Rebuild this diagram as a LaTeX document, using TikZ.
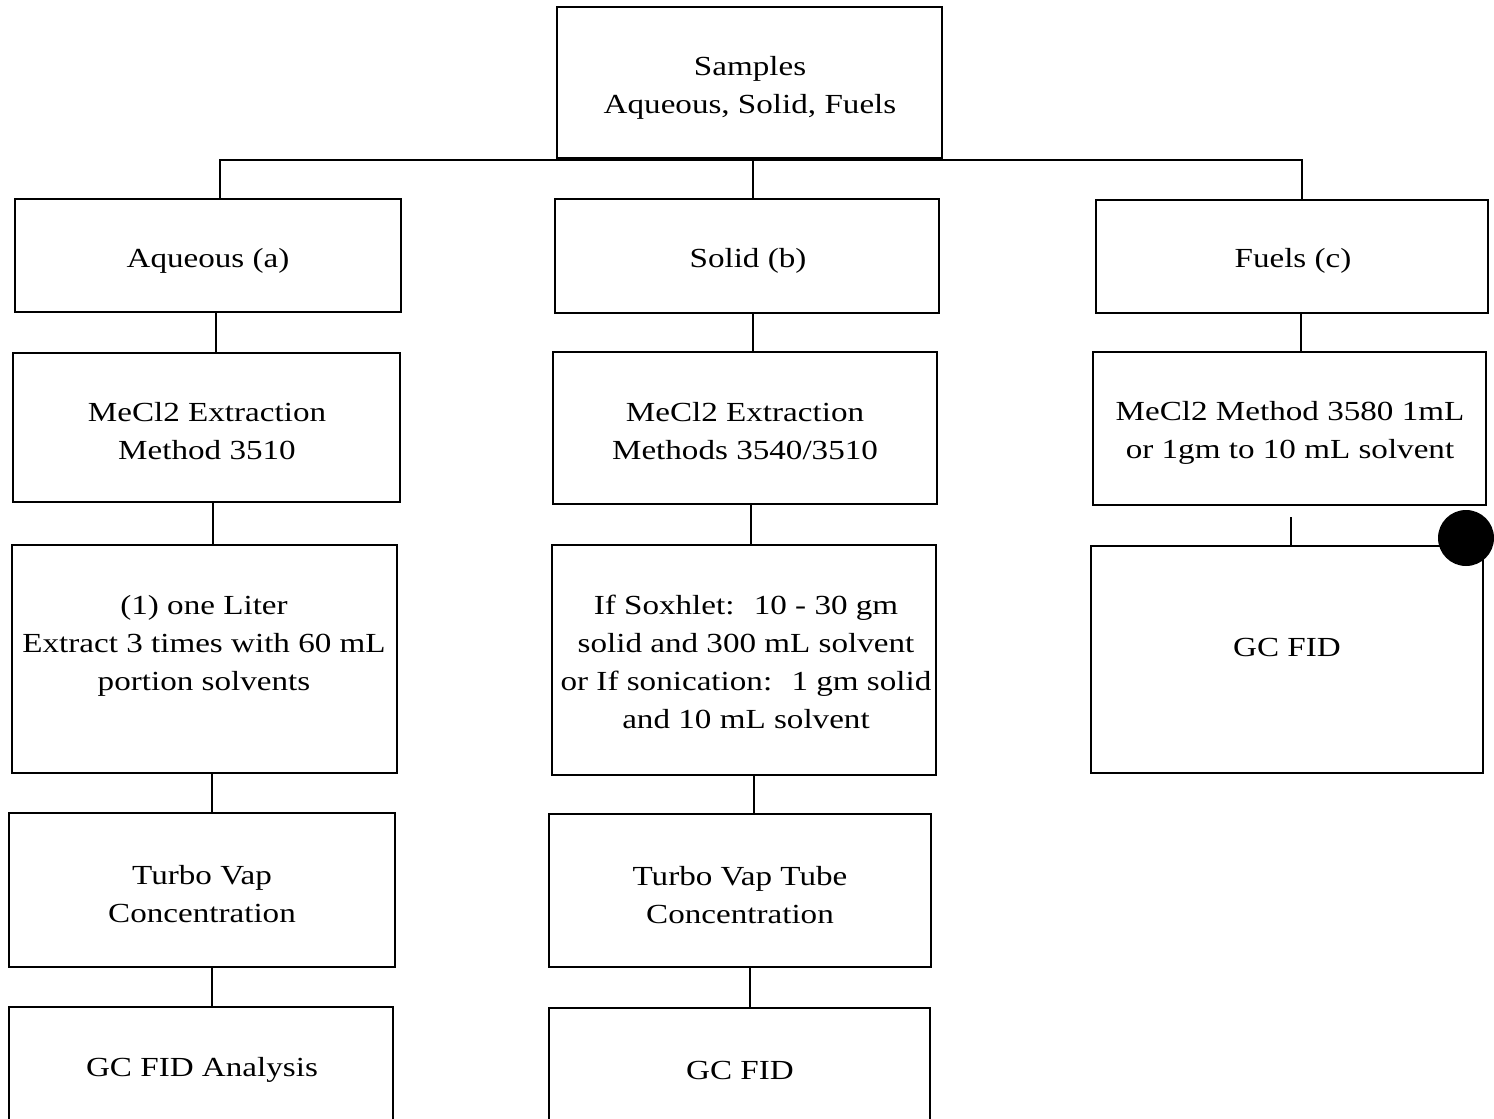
\documentclass[tikz,border=0pt]{standalone}
\usepackage{fontspec}
\setmainfont[FakeStretch=1.2]{Liberation Serif}
\newcommand\flowbox[5]{\node[box, minimum width={(#4-#2)*0.5}, minimum height={(#5-#3)*0.5}] (#1) at ({(#2+#4)/2},{(#3+#5)/2}) {};}
\tikzset{
  box/.style={draw=black, line width=1.4pt, inner sep=0pt, outer sep=0pt},
  conn/.style={draw=black, line width=0.9pt},
  txt/.style={align=center, inner sep=0pt, font=\fontsize{13.8}{19}\selectfont},
  blot/.style={fill=black, draw=none}
}
\begin{document}
\begin{tikzpicture}[x=0.5pt, y=-0.5pt]
\useasboundingbox (0,0) rectangle (1494,1119);
\clip (0,0) rectangle (1494,1119);
\fill[white] (0,0) rectangle (1494,1119);

% boxes
\flowbox{top}{557}{7}{942}{158}
\flowbox{aq1}{15}{199}{401}{312}
\flowbox{so1}{555}{199}{939}{313}
\flowbox{fu1}{1096}{200}{1488}{313}
\flowbox{aq2}{13}{353}{400}{502}
\flowbox{so2}{553}{352}{937}{504}
\flowbox{fu2}{1093}{352}{1486}{505}
\flowbox{aq3}{12}{545}{397}{773}
\flowbox{so3}{552}{545}{936}{775}
\flowbox{fu3}{1091}{546}{1483}{773}
\flowbox{aq4}{9}{813}{395}{967}
\flowbox{so4}{549}{814}{931}{967}
\flowbox{aq5}{9}{1007}{393}{1140}
\flowbox{so5}{549}{1008}{930}{1140}

% texts
\node[txt] (topt) at (750,88) {Samples\\Aqueous, Solid, Fuels};
\node[txt] (aq1t) at (208,261) {Aqueous (a)};
\node[txt] (so1t) at (748,261) {Solid (b)};
\node[txt] (fu1t) at (1293,261) {Fuels (c)};
\node[txt] (aq2t) at (207,431) {MeCl2 Extraction\\Method 3510};
\node[txt] (so2t) at (745,431) {MeCl2 Extraction\\Methods 3540/3510};
\node[txt] (fu2t) at (1290,433) {MeCl2 Method 3580 1mL\\or 1gm to 10 mL solvent};
\node[txt] (aq3t) at (204,646) {(1) one Liter\\Extract 3 times with 60 mL\\portion solvents};
\node[txt] (so3t) at (746,662) {If Soxhlet:~ 10 - 30 gm\\solid and 300 mL solvent\\or If sonication:~ 1 gm solid\\and 10 mL solvent};
\node[txt] (fu3t) at (1287,647) {GC FID};
\node[txt] (aq4t) at (202,894) {Turbo Vap\\Concentration};
\node[txt] (so4t) at (740,895) {Turbo Vap Tube\\Concentration};
\node[txt] (aq5t) at (202,1070) {GC FID Analysis};
\node[txt] (so5t) at (740,1070) {GC FID};

% connectors
\coordinate (hub) at (753,160);
\draw[conn] ([xshift=6pt]aq1.north) |- (hub) -| ([xshift=5pt]fu1.north);
\draw[conn] (hub) -- (so1.north -| hub);
\draw[conn] ([xshift=4pt]aq1.south) -- ([xshift=4pt]aq1.south |- aq2.north);
\draw[conn] ([xshift=3.25pt]aq2.south) -- ([xshift=3.25pt]aq2.south |- aq3.north);
\draw[conn] ([xshift=3.75pt]aq3.south) -- ([xshift=3.75pt]aq3.south |- aq4.north);
\draw[conn] ([xshift=5pt]aq4.south) -- ([xshift=5pt]aq4.south |- aq5.north);
\draw[conn] ([xshift=3pt]so1.south) -- ([xshift=3pt]so1.south |- so2.north);
\draw[conn] ([xshift=3pt]so2.south) -- ([xshift=3pt]so2.south |- so3.north);
\draw[conn] ([xshift=5pt]so3.south) -- ([xshift=5pt]so3.south |- so4.north);
\draw[conn] ([xshift=5pt]so4.south) -- ([xshift=5pt]so4.south |- so5.north);
\draw[conn] ([xshift=4.5pt]fu1.south) -- ([xshift=4.5pt]fu1.south |- fu2.north);
\draw[conn] ([xshift=0.75pt,yshift=-6pt]fu2.south) -- ([xshift=0.75pt]fu2.south |- fu3.north);

% black blot
\node[blot, circle, minimum size=28pt, inner sep=0pt] (dot) at (1466,538) {};
\end{tikzpicture}
\end{document}
